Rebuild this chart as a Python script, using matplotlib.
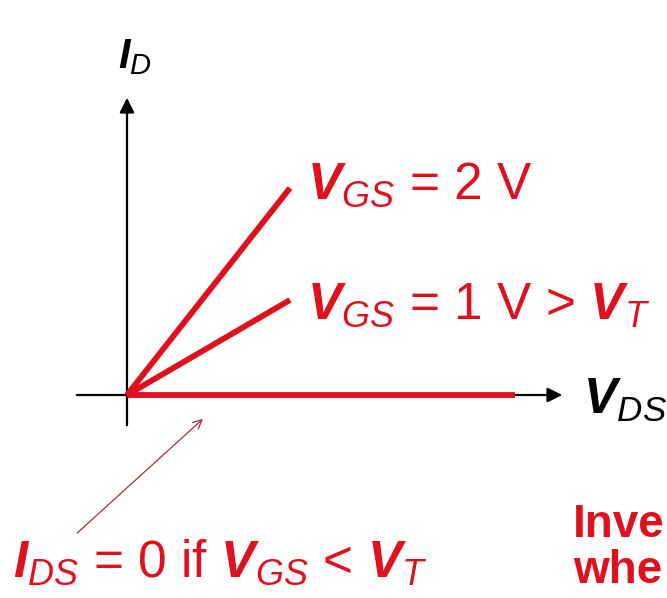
# Sketch of MOSFET I_D vs V_DS at small V_DS (linear region)

import matplotlib.pyplot as plt
from matplotlib import font_manager

# Curves (arbitrary units, origin at 0,0)
curve_labels = [r'$\mathbf{V}_{\mathit{GS}}$ = 2 V',
                r'$\mathbf{V}_{\mathit{GS}}$ = 1 V > $\mathbf{V}_{\mathit{T}}$',
                r'$\mathbf{I}_{\mathit{DS}}$ = 0 if $\mathbf{V}_{\mathit{GS}}$ < $\mathbf{V}_{\mathit{T}}$']
vds_end = [163, 163, 388]
id_end = [207, 95, 0]

# Axis extents
x_axis = [-53, 438]
y_axis = [-33, 300]

# text visible at the right edge of the slide
side_text = ['Inve', 'whe']

red = '#e0101c'
fam = 'Liberation Sans Narrow'
names = set(f.name for f in font_manager.fontManager.ttflist)
if fam not in names:
    fam = 'Liberation Sans'

plt.rcParams['font.family'] = [fam, 'DejaVu Sans']
plt.rcParams['mathtext.fontset'] = 'custom'
plt.rcParams['mathtext.rm'] = fam
plt.rcParams['mathtext.it'] = fam + ':italic'
plt.rcParams['mathtext.bf'] = fam + ':italic:bold'

fig = plt.figure(figsize=(6.67, 5.98), dpi=100, facecolor='white')
ax = fig.add_axes([0, 0, 1, 1])
ax.set_xlim(-127, 540)
ax.set_ylim(-203, 395)
ax.axis('off')

# axes with arrows
ax.annotate('', xy=(x_axis[1], 0), xytext=(x_axis[0], 0),
            arrowprops=dict(arrowstyle='-|>', color='black', lw=1.6, mutation_scale=22))
ax.annotate('', xy=(0, y_axis[1]), xytext=(0, y_axis[0]),
            arrowprops=dict(arrowstyle='-|>', color='black', lw=1.6, mutation_scale=22))

# the I-V lines
for xe, ye in zip(vds_end, id_end):
    ax.plot([0, xe], [0, ye], color=red, lw=4.2, solid_capstyle='butt', zorder=3)

# axis labels
ax.text(-9, 327, r'$\mathbf{I}_{\mathit{D}}$', fontsize=30, color='black')
ax.text(456, -5, r'$\mathbf{V}_{\mathit{DS}}$', fontsize=36, color='black', va='center')

# curve labels
ax.text(180, 210, curve_labels[0], fontsize=37, color=red, va='center')
ax.text(180, 90, curve_labels[1], fontsize=37, color=red, va='center')
ax.text(-114, -168, curve_labels[2], fontsize=37, color=red, va='center')

# pointer to the zero-current line
ax.annotate('', xy=(78, -22), xytext=(-52, -140),
            arrowprops=dict(arrowstyle='->', color='#a0303a', lw=0.9, mutation_scale=16))

# text cut at the right edge
ax.text(446, -130, side_text[0], fontsize=33, color=red, fontweight='bold', va='center')
ax.text(446, -176, side_text[1], fontsize=33, color=red, fontweight='bold', va='center')

fig.savefig('out.png', dpi=100, facecolor='white')
